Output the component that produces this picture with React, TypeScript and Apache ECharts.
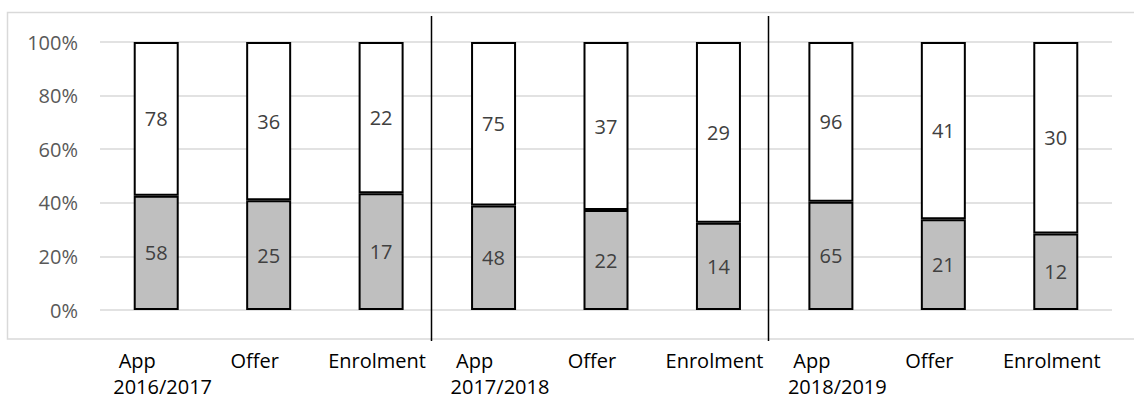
import React, { useEffect, useRef } from "react";
import * as echarts from "echarts";

const categories = ["App", "Offer", "Enrolment", "App", "Offer", "Enrolment", "App", "Offer", "Enrolment"];
const years = ["2016/2017", "2017/2018", "2018/2019"];
const lowerValues = [58, 25, 17, 48, 22, 14, 65, 21, 12];
const upperValues = [78, 36, 22, 75, 37, 29, 96, 41, 30];
const yTicks = [0, 20, 40, 60, 80, 100];

const FONT = "'Open Sans', 'Noto Sans', sans-serif";

export default function App() {
  const ref = useRef<HTMLDivElement>(null);

  useEffect(() => {
    document.body.style.margin = "0";
    if (!ref.current) return;
    const chart = echarts.init(ref.current, null, { renderer: "svg" });

    const totals = lowerValues.map((v, i) => v + upperValues[i]);
    const lowerPct = lowerValues.map((v, i) => (v / totals[i]) * 100);
    const upperPct = upperValues.map((v, i) => (v / totals[i]) * 100);

    const barStyle = (color: string) => ({
      color,
      borderColor: "#000",
      borderWidth: 2,
    });

    const labelCfg = (raw: number[]) => ({
      show: true,
      position: "inside" as const,
      color: "#404040",
      fontSize: 20,
      fontFamily: FONT,
      formatter: (p: any) => String(raw[p.dataIndex]),
    });

    chart.setOption({
      animation: false,
      textStyle: { fontFamily: FONT },
      grid: { left: 100, right: 22, top: 42, bottom: 91, containLabel: false },
      xAxis: {
        type: "category",
        data: categories,
        axisLine: { show: false },
        axisTick: { show: false },
        axisLabel: { show: false },
        splitLine: { show: false },
      },
      yAxis: {
        type: "value",
        min: yTicks[0],
        max: yTicks[yTicks.length - 1],
        interval: yTicks[1] - yTicks[0],
        axisLine: { show: false },
        axisTick: { show: false },
        axisLabel: {
          formatter: "{value}%",
          color: "#595959",
          fontSize: 20,
          fontFamily: FONT,
          margin: 22,
        },
        splitLine: { lineStyle: { color: "#d9d9d9", width: 1.5 } },
      },
      series: [
        {
          type: "bar",
          stack: "s",
          barWidth: 45,
          data: lowerPct,
          itemStyle: barStyle("#bfbfbf"),
          label: labelCfg(lowerValues),
        },
        {
          type: "bar",
          stack: "s",
          barWidth: 45,
          data: upperPct,
          itemStyle: barStyle("#ffffff"),
          label: labelCfg(upperValues),
        },
      ],
    });

    const labelOffset: Record<string, number> = { App: -19, Offer: -14, Enrolment: -4 };
    const centers = categories.map((_, i) => chart.convertToPixel({ xAxisIndex: 0 }, i) as number);
    const graphics: any[] = [
      {
        type: "rect",
        silent: true,
        z: -1,
        shape: { x: 7.5, y: 12.5, width: 1140, height: 326.5 },
        style: { fill: "none", stroke: "#d9d9d9", lineWidth: 1.5 },
      },
    ];
    categories.forEach((c, i) => {
      graphics.push({
        type: "text",
        x: centers[i] + (labelOffset[c] ?? 0),
        y: 360,
        style: {
          text: c,
          fill: "#000",
          fontSize: 20,
          fontFamily: FONT,
          textAlign: "center",
          textVerticalAlign: "middle",
        },
      });
    });
    years.forEach((y, g) => {
      graphics.push({
        type: "text",
        x: centers[g * 3] - 43,
        y: 386,
        style: {
          text: y,
          fill: "#000",
          fontSize: 20,
          fontFamily: FONT,
          textAlign: "left",
          textVerticalAlign: "middle",
        },
      });
      if (g > 0) {
        const sx = Math.round((centers[g * 3 - 1] + centers[g * 3]) / 2 - 6.5) + 0.5;
        graphics.push({
          type: "line",
          silent: true,
          z: 10,
          shape: { x1: sx, y1: 16, x2: sx, y2: 341 },
          style: { stroke: "#000", lineWidth: 1.5 },
        });
      }
    });
    chart.setOption({ graphic: graphics });

    return () => chart.dispose();
  }, []);

  return <div ref={ref} style={{ width: 1134, height: 401 }} />;
}
